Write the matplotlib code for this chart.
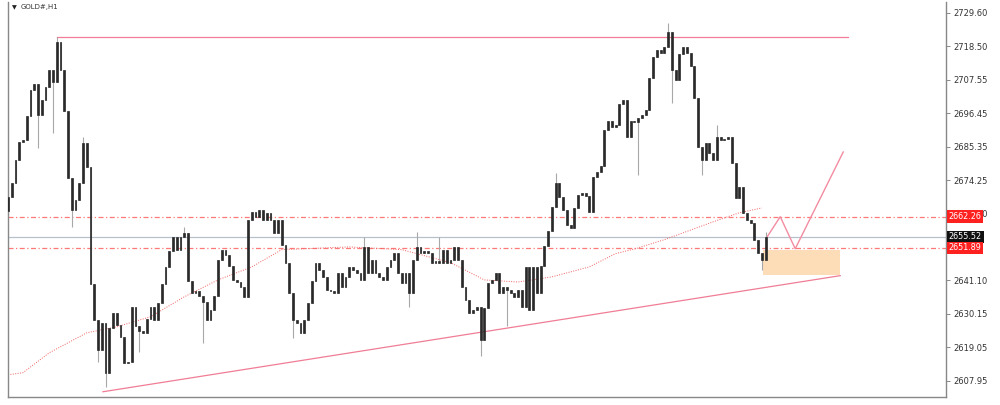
import matplotlib
matplotlib.use("Agg")
import matplotlib.pyplot as plt
from matplotlib.patches import Rectangle
import numpy as np

# H1 closes, one per candle
closes = [
    2668.8, 2673.4, 2681.0, 2687.0, 2687.6, 2695.5, 2704.0, 2706.0, 2696.0, 2700.8,
    2705.1, 2710.8, 2706.8, 2720.0, 2710.8, 2697.0, 2675.0, 2664.5, 2667.8, 2673.5,
    2686.6, 2678.7, 2640.0, 2628.1, 2618.2, 2627.1, 2610.6, 2625.5, 2630.4, 2626.5,
    2622.5, 2613.9, 2614.2, 2632.4, 2626.0, 2624.3, 2623.8, 2628.5, 2632.4, 2628.1,
    2633.5, 2640.0, 2645.5, 2651.0, 2655.5, 2651.3, 2655.5, 2656.9, 2641.0, 2637.0,
    2637.5, 2636.0, 2634.0, 2628.1, 2631.5, 2636.0, 2647.9, 2651.3, 2649.5, 2646.0,
    2641.3, 2640.5, 2639.0, 2635.7, 2661.2, 2663.8, 2662.2, 2664.5, 2661.2, 2663.5,
    2661.2, 2656.9, 2661.2, 2653.0, 2647.0, 2637.0, 2628.1, 2627.1, 2623.8, 2628.1,
    2633.7, 2641.0, 2647.0, 2644.5, 2642.3, 2638.0, 2637.5, 2637.0, 2643.6, 2639.0,
    2642.3, 2645.6, 2644.5, 2643.6, 2641.3, 2652.2, 2643.6, 2647.9, 2643.6, 2642.3,
    2641.3, 2645.6, 2648.0, 2650.3, 2643.6, 2640.3, 2643.6, 2637.0, 2647.9, 2652.2,
    2650.3, 2650.8, 2650.3, 2647.0, 2647.5, 2647.0, 2651.3, 2647.0, 2647.9, 2652.2,
    2647.9, 2639.0, 2634.7, 2630.4, 2631.4, 2632.4, 2621.5, 2632.0, 2640.3, 2641.3,
    2643.6, 2637.0, 2639.0, 2638.0, 2637.0, 2635.7, 2638.0, 2632.4, 2645.6, 2631.4,
    2645.6, 2637.0, 2646.0, 2652.5, 2657.5, 2665.5, 2673.4, 2668.8, 2664.5, 2659.5,
    2658.5, 2665.0, 2669.5, 2670.1, 2669.0, 2663.8, 2675.4, 2677.0, 2679.0, 2691.0,
    2694.0, 2691.9, 2692.5, 2699.5, 2700.8, 2688.6, 2694.0, 2693.5, 2695.0, 2695.8,
    2697.5, 2708.0, 2715.1, 2717.4, 2716.4, 2718.4, 2723.3, 2710.8, 2707.5, 2716.0,
    2718.4, 2716.5, 2712.0, 2701.5, 2685.3, 2681.0, 2686.6, 2683.3, 2681.0, 2688.6,
    2687.6, 2688.0, 2688.6, 2680.0, 2668.5, 2672.1, 2663.5, 2661.2, 2660.2, 2654.6,
    2650.3, 2647.9, 2655.5,
]
first_open = 2664.0

# longer shadows that stand out (candle index: price)
wick_high = {13: 2721.7, 20: 2688.6, 47: 2658.8, 95: 2655.5, 109: 2657.0,
             115: 2655.5, 146: 2676.7, 176: 2726.3, 189: 2692.6, 202: 2657.0}
wick_low = {8: 2685.0, 12: 2690.0, 17: 2658.9, 24: 2614.0, 26: 2606.0,
            35: 2617.5, 52: 2620.5, 76: 2622.0, 107: 2632.4, 126: 2616.2,
            133: 2626.0, 168: 2676.0, 177: 2699.8, 185: 2676.0, 201: 2644.6}

# moving average (dotted), read at a few candles
ma_idx = [0, 4, 11, 21, 29, 38, 47, 56, 65, 73, 91, 105, 118, 127, 136, 145,
          155, 162, 167, 175, 188, 195, 201]
ma_val = [2609.9, 2610.6, 2617.2, 2623.8, 2625.8, 2629.1, 2635.7, 2641.3, 2645.6,
          2651.3, 2652.2, 2651.3, 2647.0, 2641.3, 2640.6, 2642.3, 2645.6, 2650.0,
          2651.5, 2654.6, 2660.5, 2663.5, 2665.1]

resistance = 2721.7
res_span = (13, 224)
trend_idx = [25.3, 221.9]
trend_val = [2604.3, 2642.7]
level_hi = 2662.26
level_lo = 2651.89
last_price = 2655.52
zone_idx = (201.3, 221.9)
zone_val = (2643.0, 2651.2)
path_idx = [202.4, 205.9, 209.9, 222.7]
path_val = [2655.5, 2662.2, 2651.6, 2683.6]

yticks = [2729.60, 2718.50, 2707.55, 2696.45, 2685.35, 2674.25, 2663.20,
          2641.10, 2630.15, 2619.05, 2607.95]

fig = plt.figure(figsize=(10, 4.05), dpi=100)
ax = fig.add_axes([0.008, 0.02, 0.938, 0.975])

n = len(closes)
x = np.arange(n)
opens = np.array([first_open] + closes[:-1])
cl = np.array(closes)
hi = np.maximum(opens, cl)
lo = np.minimum(opens, cl)
for k, v in wick_high.items():
    hi[k] = v
for k, v in wick_low.items():
    lo[k] = v

ax.vlines(x, lo, hi, color='#a8a8a8', lw=0.8, zorder=3)
ax.bar(x, cl - opens, bottom=opens, width=0.5, color='#2a2a2a',
       edgecolor='#2a2a2a', lw=0.5, zorder=4)

ax.plot(ma_idx, ma_val, color='#f06060', lw=0.7, ls=(0, (1, 1.5)), zorder=2)

ax.plot(res_span, [resistance, resistance], color='#f07d95', lw=0.9, zorder=2)
ax.plot(trend_idx, trend_val, color='#f07d95', lw=0.9, zorder=2)
ax.axhline(level_hi, color='#ff4040', lw=0.9, ls=(0, (4, 2, 1, 2)), alpha=0.7, zorder=1)
ax.axhline(level_lo, color='#ff4040', lw=0.9, ls=(0, (4, 2, 1, 2)), alpha=0.7, zorder=1)
ax.axhline(last_price, color='#b8c0cc', lw=0.9, zorder=1)

ax.add_patch(Rectangle((zone_idx[0], zone_val[0]), zone_idx[1] - zone_idx[0],
                       zone_val[1] - zone_val[0], facecolor='#fddcb8',
                       edgecolor='none', zorder=1))
ax.plot(path_idx, path_val, color='#f28ca0', lw=1.0, zorder=2)

ax.set_xlim(0, 250.1)
ax.set_ylim(2602.6, 2733.2)
ax.set_xticks([])
ax.yaxis.tick_right()
ax.set_yticks(yticks)
ax.set_yticklabels([f'{v:.2f}' for v in yticks])
ax.tick_params(axis='y', length=3, width=0.6, color='#777777', labelsize=6,
               labelcolor='#333333', pad=2)
for s in ['left', 'right', 'bottom']:
    ax.spines[s].set_color('#888888')
    ax.spines[s].set_linewidth(1.0)
ax.spines['top'].set_visible(False)

# price tags on the right scale
for val, bg in [(level_hi, '#ff2020'), (last_price, '#111111'), (level_lo, '#ff2020')]:
    ax.annotate(f'{val:.2f}', xy=(1.0, val), xycoords=('axes fraction', 'data'),
                xytext=(2, 0), textcoords='offset points', ha='left', va='center',
                fontsize=5.8, color='white', zorder=10, annotation_clip=False,
                bbox=dict(boxstyle='square,pad=0.22', fc=bg, ec='none'))

fig.text(0.012, 0.982, '\u25bc', fontsize=4.5, color='#222222', va='center')
fig.text(0.021, 0.982, 'GOLD#,H1', fontsize=5, color='#333333', va='center')

fig.savefig('out.png', dpi=100)
